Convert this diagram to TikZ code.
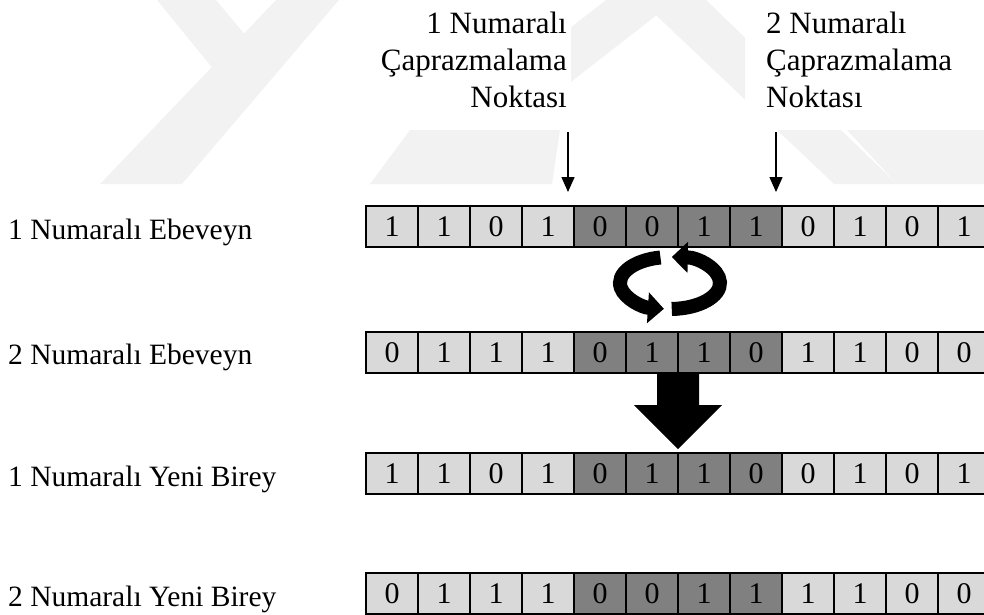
\documentclass[tikz,border=0pt]{standalone}
\usepackage{fontspec}
\setmainfont{Liberation Serif}
\usetikzlibrary{arrows.meta}
\definecolor{lightc}{HTML}{D9D9D9}
\definecolor{darkc}{HTML}{808080}
\definecolor{wmc}{HTML}{F2F2F2}
\tikzset{
  lbl/.style={font=\fontsize{31}{37}\selectfont, inner sep=0pt},
  rowlbl/.style={font=\fontsize{29.5}{35}\selectfont, inner sep=0pt},
  cellbox/.style={draw=black, line width=2pt, minimum width=52pt, minimum height=41pt,
    inner sep=0pt, anchor=north west, font=\fontsize{30}{32}\selectfont},
  thinarrow/.style={line width=1.5pt, -{Triangle[width=13pt,length=15pt]}},
  rotarrow/.style={line width=14pt, -{Triangle[width=30pt,length=16pt]}},
  wm/.style={fill=wmc}
}
\newcommand\mkrow[3]{%
  \foreach \d [count=\i] in {#3} {%
    \ifnum\i>4\relax\ifnum\i<9\relax\def\cf{darkc}\else\def\cf{lightc}\fi\else\def\cf{lightc}\fi
    \node[cellbox, fill=\cf] (#1c\i) at ({365+(\i-1)*52},#2) {\d};
  }%
}
\begin{document}
\begin{tikzpicture}[x=1pt,y=-1pt]
\useasboundingbox (0,0) rectangle (984,614);
\clip (0,0) rectangle (984,614);

% faint watermark
\begin{scope}[even odd rule]
  \clip (0,0) rectangle (984,184) (345,0) rectangle (571,130) (745,0) rectangle (984,130);
  \fill[wm] (100,184) -- (182,184) -- (339,0) -- (276,0) -- cycle;
  \fill[wm] (157,0) -- (216,0) -- (262,55) -- (232,92) -- cycle;
  \fill[wm] (370,184) -- (440,184) -- (676,0) -- (606,0) -- cycle;
  \fill[wm] (640,0) -- (706,0) -- (897,184) -- (834,184) -- cycle;
  \fill[wm] (410,130) -- (560,130) -- (552,184) -- (370,184) -- cycle;
  \fill[wm] (847,130) -- (984,130) -- (984,184) -- (897,184) -- cycle;
\end{scope}

% top labels
\node[lbl, anchor=base east] (a1) at (567,33) {1 Numaralı};
\node[lbl, anchor=base east] (a2) at (567,70) {Çaprazmalama};
\node[lbl, anchor=base east] (a3) at (567,107) {Noktası};
\node[lbl, anchor=base west] (b1) at (766,33) {2 Numaralı};
\node[lbl, anchor=base west] (b2) at (766,70) {Çaprazmalama};
\node[lbl, anchor=base west] (b3) at (766,107) {Noktası};

% crossover arrows
\coordinate (p1s) at (568,132);
\coordinate (p1e) at (568,192);
\coordinate (p2s) at (776,132);
\coordinate (p2e) at (776,192);
\draw[thinarrow] (p1s) -- (p1e);
\draw[thinarrow] (p2s) -- (p2e);

% row labels
\node[rowlbl, anchor=base west] (l1) at (8,239) {1 Numaralı Ebeveyn};
\node[rowlbl, anchor=base west] (l2) at (8,364) {2 Numaralı Ebeveyn};
\node[rowlbl, anchor=base west] (l3) at (8,486) {1 Numaralı Yeni Birey};
\node[rowlbl, anchor=base west] (l4) at (8,606) {2 Numaralı Yeni Birey};

% rows of cells
\mkrow{ra}{205}{1,1,0,1,0,0,1,1,0,1,0,1}
\mkrow{rb}{331}{0,1,1,1,0,1,1,0,1,1,0,0}
\mkrow{rc}{452}{1,1,0,1,0,1,1,0,0,1,0,1}
\mkrow{rd}{572}{0,1,1,1,0,0,1,1,1,1,0,0}

% exchange (rotating) arrows
\coordinate (rot) at (670,283);
\draw[rotarrow] (rot) ++(101:50pt and 26pt) arc[start angle=101, end angle=263, x radius=50pt, y radius=26pt];
\draw[rotarrow] (rot) ++(272:50pt and 26pt) arc[start angle=272, end angle=448, x radius=50pt, y radius=26pt];

% big down arrow
\coordinate (ba) at (678,372);
\fill (ba) ++(-21,0) -- ++(42,0) -- ++(0,33) -- ++(23,0) -- ++(-44,44) -- ++(-44,-44) -- ++(23,0) -- cycle;
\end{tikzpicture}
\end{document}
